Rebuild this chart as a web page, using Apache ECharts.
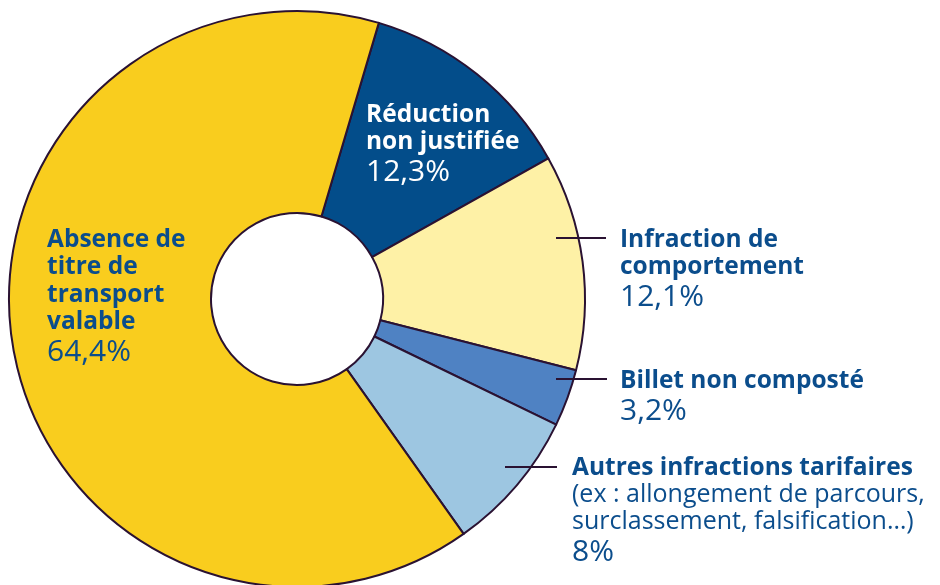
<!DOCTYPE html>
<html>
<head>
<meta charset="utf-8">
<script src="https://cdn.jsdelivr.net/npm/echarts@6/dist/echarts.min.js"></script>
<style>
html,body{margin:0;padding:0;background:#fff;}
#chart{width:940px;height:585px;}
</style>
</head>
<body>
<div id="chart"></div>
<script>
// ---- data ----
const categories = ['Réduction\nnon justifiée', 'Infraction de\ncomportement', 'Billet non composté', 'Autres infractions tarifaires', 'Absence de\ntitre de\ntransport\nvalable'];
const notes = ['', '', '', '(ex : allongement de parcours,\nsurclassement, falsification…)', ''];
const values = [12.3, 12.1, 3.2, 8, 64.4];

// ---- styles ----
const colors = ['#034D8A', '#FEF1A6', '#4F82C3', '#9DC6E1', '#F9CD1E'];
const textColors = ['#FFFFFF', '#0B4D8C', '#0B4D8C', '#0B4D8C', '#0B4D8C'];
const labelPos = [[366, 101], [620, 226], [620, 367], [572, 454], [47, 226]];
const linePts = [null, [556, 606, 238], [556, 607, 379], [505, 557, 467], null];
const borderColor = '#2A1232';
const FONT = 'Open Sans';

function fmt(v) { return String(v).replace('.', ','); }

const chart = echarts.init(document.getElementById('chart'), null, {renderer: 'canvas'});
const data = categories.map((c, i) => ({
  name: c,
  value: values[i],
  itemStyle: {color: colors[i]},
  label: {
    color: textColors[i],
    rich: {
      b: {fontFamily: FONT, fontWeight: 'bold', fontSize: 24.5, lineHeight: 27.5, color: textColors[i]},
      r: {fontFamily: FONT, fontWeight: 'normal', fontSize: 25, lineHeight: 27, color: textColors[i]},
      p: {fontFamily: FONT, fontWeight: 'normal', fontSize: 30, lineHeight: 33, color: textColors[i]}
    }
  },
  labelLine: {show: false}
}));

const lines = linePts.filter(Boolean).map(p => ({
  type: 'line',
  shape: {x1: p[0], y1: p[2], x2: p[1], y2: p[2]},
  style: {stroke: borderColor, lineWidth: 2},
  z: 10
}));

chart.setOption({
  animation: false,
  graphic: lines,
  series: [{
    type: 'pie',
    center: [297, 299],
    radius: [86, 288],
    startAngle: 73.5,
    clockwise: true,
    avoidLabelOverlap: false,
    itemStyle: {borderColor: borderColor, borderWidth: 2},
    label: {
      show: true,
      position: 'outside',
      align: 'left',
      formatter: function (p) {
        const i = p.dataIndex;
        let s = categories[i].split('\n').map(t => '{b|' + t + '}').join('\n');
        if (notes[i]) s += '\n' + notes[i].split('\n').map(t => '{r|' + t + '}').join('\n');
        s += '\n{p|' + fmt(values[i]) + '%}';
        return s;
      }
    },
    labelLayout: function (params) {
      const i = params.dataIndex;
      return {x: labelPos[i][0], y: labelPos[i][1], align: 'left', verticalAlign: 'top'};
    },
    emphasis: {disabled: true},
    data: data
  }]
});
</script>
</body>
</html>
